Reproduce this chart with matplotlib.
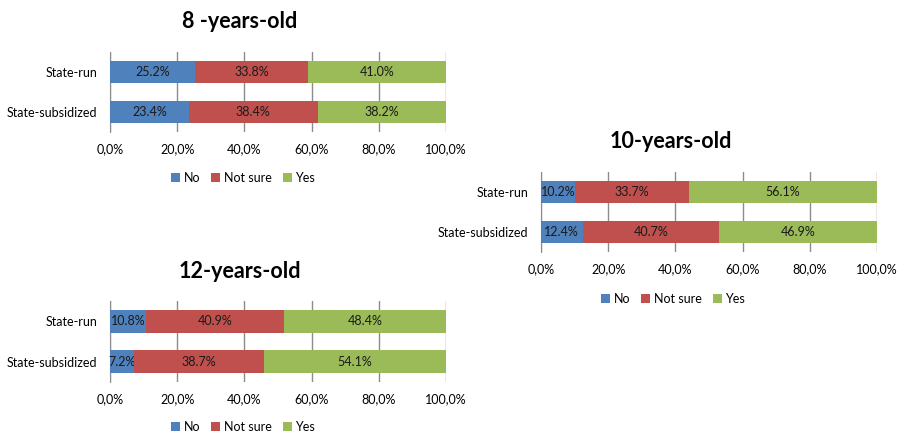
import matplotlib
matplotlib.use('Agg')
import matplotlib.pyplot as plt
from matplotlib.patches import Patch
import numpy as np

plt.rcParams['font.family'] = ['Lato', 'DejaVu Sans']

schools = ['State-run', 'State-subsidized']
answers = ['No', 'Not sure', 'Yes']
colors = ['#4F81BD', '#C0504D', '#9BBB59']
ticks = [0, 20, 40, 60, 80, 100]
tick_labels = ['0,0%', '20,0%', '40,0%', '60,0%', '80,0%', '100,0%']

# percentages per answer, order: State-run, State-subsidized
age8_no = [25.2, 23.4]
age8_notsure = [33.8, 38.4]
age8_yes = [41.0, 38.2]

age10_no = [10.2, 12.4]
age10_notsure = [33.7, 40.7]
age10_yes = [56.1, 46.9]

age12_no = [10.8, 7.2]
age12_notsure = [40.9, 38.7]
age12_yes = [48.4, 54.1]

W, H = 899, 433
fig = plt.figure(figsize=(W / 100, H / 100), dpi=100)


def px_axes(left, top, right, bottom):
    return fig.add_axes([left / W, 1 - bottom / H, (right - left) / W, (bottom - top) / H])


def panel(box, title, title_xy, legend_xy, series):
    ax = px_axes(*box)
    ypos = [1, 0]
    left = np.zeros(2)
    for vals, c, name in zip(series, colors, answers):
        bars = ax.barh(ypos, vals, left=left, height=0.57, color=c, zorder=3)
        ax.bar_label(bars, labels=['%.1f%%' % v for v in vals], label_type='center',
                     fontsize=9, color='#1a1a1a')
        left += np.array(vals)
    ax.set_xlim(0, 100)
    ax.set_ylim(-0.5, 1.5)
    ax.set_xticks(ticks)
    ax.set_xticklabels(tick_labels, fontsize=9)
    ax.set_yticks(ypos)
    ax.set_yticklabels(schools, fontsize=9)
    ax.tick_params(axis='x', length=0, pad=8)
    ax.tick_params(axis='y', length=0, pad=9)
    ax.grid(axis='x', color='#8c8c8c', lw=1, zorder=0)
    for s in ['top', 'right', 'bottom']:
        ax.spines[s].set_visible(False)
    ax.spines['left'].set_color('#8c8c8c')
    fig.text(title_xy[0] / W, 1 - title_xy[1] / H, title, ha='center', va='center',
             fontsize=15.5, fontweight='bold')
    handles = [Patch(facecolor=c) for c in colors]
    fig.legend(handles, answers, loc='center', bbox_to_anchor=(legend_xy[0] / W, 1 - legend_xy[1] / H),
               ncol=3, frameon=False, fontsize=9, handlelength=0.7, handleheight=0.7,
               handletextpad=0.3, columnspacing=0.9, borderpad=0)
    return ax


panel((110, 52, 446, 132), '8 -years-old', (240, 21), (243, 178),
      [age8_no, age8_notsure, age8_yes])
panel((541, 172, 877, 252), '10-years-old', (671, 142), (673, 299),
      [age10_no, age10_notsure, age10_yes])
panel((110, 301, 446, 382), '12-years-old', (240, 271), (243, 427),
      [age12_no, age12_notsure, age12_yes])

fig.savefig('out.png', dpi=100)
